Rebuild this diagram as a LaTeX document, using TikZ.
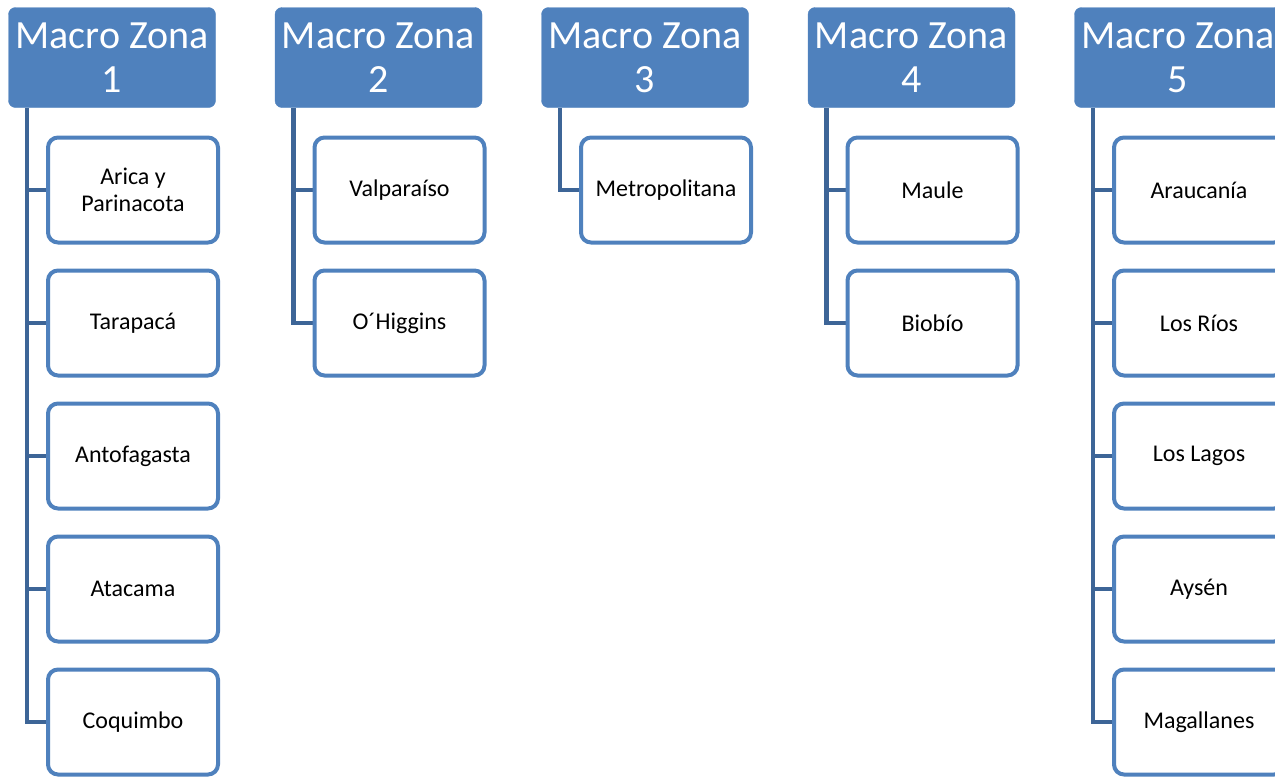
\documentclass[tikz,border=0pt]{standalone}
\usepackage{fontspec}
\setmainfont{Carlito}
\usetikzlibrary{positioning}
\definecolor{zonablue}{RGB}{79,129,189}
\definecolor{linkblue}{RGB}{61,101,151}
\tikzset{
  zona/.style={draw=zonablue,fill=zonablue,rounded corners=7pt,minimum width=207pt,minimum height=100pt,
    text=white,align=center,inner sep=0pt,font=\fontsize{40}{44}\selectfont},
  region/.style={draw=zonablue,line width=4pt,fill=white,rounded corners=10pt,minimum width=170pt,minimum height=105pt,
    align=center,inner sep=0pt,font=\fontsize{24}{27}\selectfont},
  link/.style={draw=linkblue,line width=4.5pt}
}

\begin{document}
\begin{tikzpicture}[x=1pt,y=-1pt]
    \useasboundingbox (0,0) rectangle (1275,777);

    % macro zonas
    \node[zona] (z1) at (112,57.5) {Macro Zona\\1};
    \node[zona] (z2) at (378.5,57.5) {Macro Zona\\2};
    \node[zona] (z3) at (645,57.5) {Macro Zona\\3};
    \node[zona] (z4) at (911.5,57.5) {Macro Zona\\4};
    \node[zona] (z5) at (1178,57.5) {Macro Zona\\5};

    \coordinate (t1) at (27,108);
    \coordinate (t2) at (293.5,108);
    \coordinate (t3) at (560,108);
    \coordinate (t4) at (826.5,108);
    \coordinate (t5) at (1093,108);

    % zona 1
    \draw[link] (t1) |- (133,190);
    \draw[link] (t1) |- (133,323);
    \draw[link] (t1) |- (133,456);
    \draw[link] (t1) |- (133,589);
    \draw[link] (t1) |- (133,722);
    \node[region] (r11) at (133,190) {Arica y\\Parinacota};
    \node[region] (r12) at (133,323) {Tarapacá};
    \node[region] (r13) at (133,456) {Antofagasta};
    \node[region] (r14) at (133,589) {Atacama};
    \node[region] (r15) at (133,722) {Coquimbo};

    % zona 2
    \draw[link] (t2) |- (399.5,190);
    \draw[link] (t2) |- (399.5,323);
    \node[region] (r21) at (399.5,190) {Valparaíso};
    \node[region] (r22) at (399.5,323) {O´Higgins};

    % zona 3
    \draw[link] (t3) |- (666,190);
    \node[region] (r31) at (666,190) {Metropolitana};

    % zona 4
    \draw[link] (t4) |- (932.5,190);
    \draw[link] (t4) |- (932.5,323);
    \node[region] (r41) at (932.5,190) {Maule};
    \node[region] (r42) at (932.5,323) {Biobío};

    % zona 5
    \draw[link] (t5) |- (1199,190);
    \draw[link] (t5) |- (1199,323);
    \draw[link] (t5) |- (1199,456);
    \draw[link] (t5) |- (1199,589);
    \draw[link] (t5) |- (1199,722);
    \node[region] (r51) at (1199,190) {Araucanía};
    \node[region] (r52) at (1199,323) {Los Ríos};
    \node[region] (r53) at (1199,456) {Los Lagos};
    \node[region] (r54) at (1199,589) {Aysén};
    \node[region] (r55) at (1199,722) {Magallanes};
\end{tikzpicture}
\end{document}
